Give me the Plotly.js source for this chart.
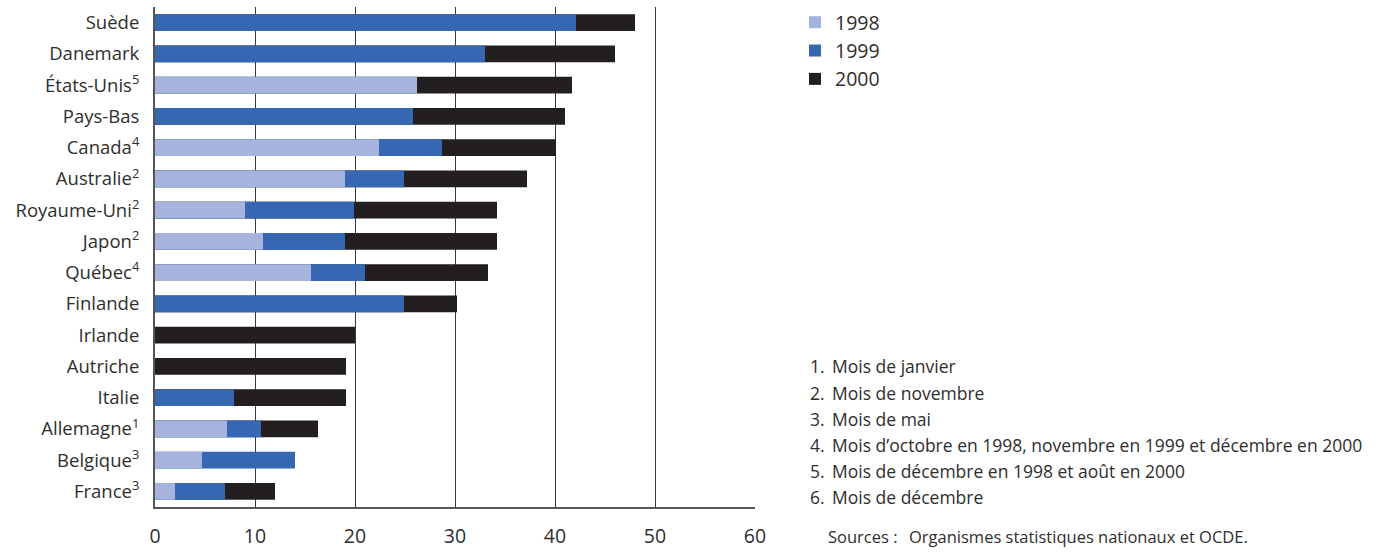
<!DOCTYPE html>
<html>
<head>
<meta charset="utf-8">
<script src="https://cdn.plot.ly/plotly-3.0.1.min.js"></script>
<style>html,body{margin:0;padding:0;background:#fff;}#chart{width:1379px;height:552px;}</style>
</head>
<body>
<div id="chart"></div>
<script>
var categories = ["Suède","Danemark","États-Unis<sup>5</sup>","Pays-Bas","Canada<sup>4</sup>","Australie<sup>2</sup>","Royaume-Uni<sup>2</sup>","Japon<sup>2</sup>","Québec<sup>4</sup>","Finlande","Irlande","Autriche","Italie","Allemagne<sup>1</sup>","Belgique<sup>3</sup>","France<sup>3</sup>"];
var v1998 = [null, null, 26.2, null, 22.4, 19.0, 9.0, 10.8, 15.6, null, null, null, null, 7.2, 4.7, 2.0];
var v1999 = [42.1, 33.0, null, 25.8, 28.7, 24.9, 19.9, 19.0, 21.0, 24.9, null, null, 7.9, 10.6, 14.0, 7.0];
var v2000 = [48.0, 46.0, 41.7, 41.0, 40.1, 37.2, 34.2, 34.2, 33.3, 30.2, 20.0, 19.1, 19.1, 16.3, null, 12.0];
var xTicks = [0,10,20,30,40,50,60];
var notes = ["Mois de janvier","Mois de novembre","Mois de mai","Mois d\u2019octobre en 1998, novembre en 1999 et décembre en 2000","Mois de décembre en 1998 et août en 2000","Mois de décembre"];

var FONT = "'Open Sans', sans-serif";
var TXT = '#2e2e2e';
function barTrace(name, vals, color, rank){
  return {type:'bar', orientation:'h', name:name, x:vals, y:categories,
    marker:{color:color, line:{width:0}}, width:0.54, legendrank:rank, hoverinfo:'x+y+name'};
}
var data = [
  barTrace('2000', v2000, '#231F20', 3),
  barTrace('1999', v1999, '#3567B3', 2),
  barTrace('1998', v1998, '#A6B3DC', 1)
];

function px2x(p){ return (p-155)/600; }
function py2y(p){ return 1-(p-3)/505; }
var annotations = [];
var noteY0 = 366, noteDy = 26.4, NOTE = 17.5;
notes.forEach(function(t,i){
  var ypix = noteY0 + i*noteDy;
  annotations.push({xref:'paper', yref:'paper', x:px2x(808), y:py2y(ypix), xanchor:'left', yanchor:'middle',
    text:(i+1)+'.', showarrow:false, font:{family:FONT, size:NOTE, color:TXT}});
  annotations.push({xref:'paper', yref:'paper', x:px2x(830), y:py2y(ypix), xanchor:'left', yanchor:'middle',
    text:t, showarrow:false, font:{family:FONT, size:NOTE, color:TXT}});
});
annotations.push({xref:'paper', yref:'paper', x:px2x(826), y:py2y(538), xanchor:'left', yanchor:'middle',
  text:'Sources :', showarrow:false, font:{family:FONT, size:16.5, color:TXT}});
annotations.push({xref:'paper', yref:'paper', x:px2x(907), y:py2y(538), xanchor:'left', yanchor:'middle',
  text:'Organismes statistiques nationaux et OCDE.', showarrow:false, font:{family:FONT, size:16.5, color:TXT}});

var layout = {
  width:1379, height:552,
  margin:{l:155, r:624, t:3, b:45, pad:0},
  paper_bgcolor:'#fff', plot_bgcolor:'#fff',
  barmode:'overlay',
  showlegend:true,
  legend:{x:px2x(795), y:1.008, xanchor:'left', yanchor:'top', font:{family:FONT, size:19.5, color:TXT},
    bgcolor:'rgba(0,0,0,0)', borderwidth:0, tracegroupgap:0},
  font:{family:FONT, color:TXT},
  xaxis:{range:[0,60], tickvals:xTicks, ticktext:xTicks.map(String), showgrid:true, gridcolor:'#3a3a3a', gridwidth:1.2,
    zeroline:false, showline:true, linecolor:'#555', linewidth:2, ticks:'', ticklabelstandoff:11,
    tickfont:{family:FONT, size:19.5, color:TXT}, fixedrange:true},
  yaxis:{type:'category', range:[15.5,-0.5], showgrid:false, zeroline:false, showline:true, linecolor:'#555', linewidth:2,
    ticks:'', ticklabelstandoff:10, tickfont:{family:FONT, size:18.5, color:TXT}, fixedrange:true},
  annotations:annotations
};
Plotly.newPlot('chart', data, layout, {displayModeBar:false});
</script>
</body>
</html>
